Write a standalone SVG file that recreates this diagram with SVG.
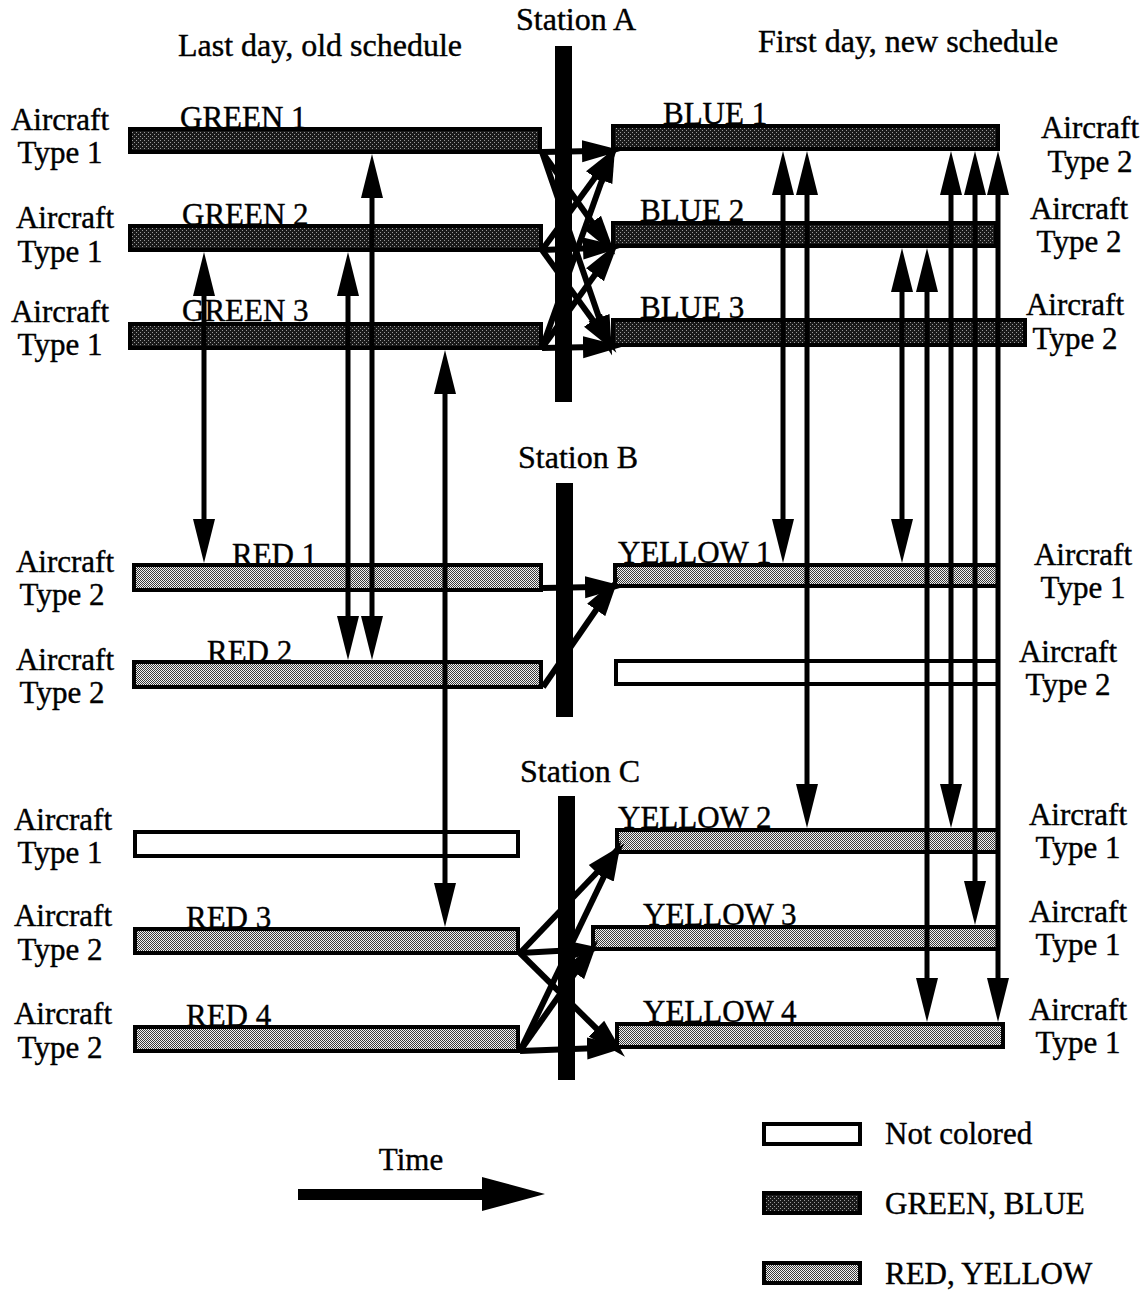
<svg xmlns="http://www.w3.org/2000/svg" width="1142" height="1291" viewBox="0 0 1142 1291">
<style>
text{font-family:"Liberation Serif","Times New Roman",serif;font-size:31px;fill:#000;stroke:#000;stroke-width:0.4}
.m{text-anchor:middle}
.h{font-size:32px}
.bar{stroke:#000;stroke-width:4}
.dark{fill:url(#pd)}
.light{fill:url(#pl)}
.none{fill:#fff}
.stn{fill:#000}
.v{stroke:#000;stroke-width:5;fill:none;marker-start:url(#hv);marker-end:url(#hv)}
.x{stroke:#000;stroke-width:6;fill:none;marker-end:url(#hx)}
</style>
<defs>
<pattern id="pd" width="4" height="4" patternUnits="userSpaceOnUse">
<rect width="4" height="4" fill="#1a1a1a"/>
<rect x="0" y="0" width="1" height="1" fill="#9a9a9a"/>
<rect x="2" y="2" width="1" height="1" fill="#9a9a9a"/>
</pattern>
<pattern id="pl" width="2" height="2" patternUnits="userSpaceOnUse">
<rect width="2" height="2" fill="#f2f2f2"/>
<rect x="0" y="0" width="1" height="1" fill="#3a3a3a"/>
<rect x="1" y="1" width="1" height="1" fill="#3a3a3a"/>
</pattern>
<marker id="hv" markerUnits="userSpaceOnUse" markerWidth="44" markerHeight="24" viewBox="0 0 44 24" refX="14" refY="12" orient="auto-start-reverse">
<path d="M0,1 L44,12 L0,23 z" fill="#000"/>
</marker>
<marker id="hx" markerUnits="userSpaceOnUse" markerWidth="40" markerHeight="24" viewBox="0 0 40 24" refX="12" refY="12" orient="auto">
<path d="M0,1 L40,12 L0,23 z" fill="#000"/>
</marker>
</defs>
<rect width="1142" height="1291" fill="#fff"/>

<g id="headings">
<text class="m h" x="576" y="30">Station A</text>
<text class="h" x="178" y="56">Last day, old schedule</text>
<text class="h" x="758" y="52">First day, new schedule</text>
<text class="m h" x="578" y="468">Station B</text>
<text class="m h" x="580" y="782">Station C</text>
</g>

<g id="stationA"><rect class="stn" x="555" y="46" width="17" height="356"/></g>
<g id="stationB"><rect class="stn" x="556" y="483" width="17" height="234"/></g>
<g id="stationC"><rect class="stn" x="558" y="796" width="17" height="284"/></g>

<g id="green1"><rect class="bar dark" x="130" y="129" width="410" height="23"/><text x="180" y="128">GREEN 1</text>
<text class="m" x="60" y="130">Aircraft</text><text class="m" x="60" y="163">Type 1</text></g>
<g id="green2"><rect class="bar dark" x="130" y="226" width="411" height="24"/><text x="182" y="225">GREEN 2</text>
<text class="m" x="65" y="228">Aircraft</text><text class="m" x="60" y="262">Type 1</text></g>
<g id="green3"><rect class="bar dark" x="130" y="324" width="411" height="24"/><text x="182" y="321">GREEN 3</text>
<text class="m" x="60" y="322">Aircraft</text><text class="m" x="60" y="355">Type 1</text></g>

<g id="blue1"><rect class="bar dark" x="613" y="126" width="385" height="23"/><text x="663" y="124">BLUE 1</text>
<text class="m" x="1090" y="138">Aircraft</text><text class="m" x="1090" y="172">Type 2</text></g>
<g id="blue2"><rect class="bar dark" x="613" y="223" width="383" height="23"/><text x="640" y="221">BLUE 2</text>
<text class="m" x="1079" y="219">Aircraft</text><text class="m" x="1079" y="252">Type 2</text></g>
<g id="blue3"><rect class="bar dark" x="613" y="320" width="412" height="25"/><text x="640" y="318">BLUE 3</text>
<text class="m" x="1075" y="315">Aircraft</text><text class="m" x="1075" y="349">Type 2</text></g>

<g id="red1"><rect class="bar light" x="134" y="565" width="407" height="25"/><text x="232" y="565">RED 1</text>
<text class="m" x="65" y="572">Aircraft</text><text class="m" x="62" y="605">Type 2</text></g>
<g id="red2"><rect class="bar light" x="134" y="662" width="407" height="25"/><text x="207" y="662">RED 2</text>
<text class="m" x="65" y="670">Aircraft</text><text class="m" x="62" y="703">Type 2</text></g>

<g id="yellow1"><rect class="bar light" x="615" y="565" width="383" height="21"/><text x="618" y="563">YELLOW 1</text>
<text class="m" x="1083" y="565">Aircraft</text><text class="m" x="1083" y="598">Type 1</text></g>
<g id="uncoloredB"><rect class="bar none" x="616" y="661" width="382" height="23"/>
<text class="m" x="1068" y="662">Aircraft</text><text class="m" x="1068" y="695">Type 2</text></g>

<g id="uncoloredC"><rect class="bar none" x="135" y="832" width="383" height="24"/>
<text class="m" x="63" y="830">Aircraft</text><text class="m" x="60" y="863">Type 1</text></g>
<g id="red3"><rect class="bar light" x="135" y="929" width="383" height="24"/><text x="186" y="928">RED 3</text>
<text class="m" x="63" y="926">Aircraft</text><text class="m" x="60" y="960">Type 2</text></g>
<g id="red4"><rect class="bar light" x="135" y="1027" width="383" height="24"/><text x="186" y="1026">RED 4</text>
<text class="m" x="63" y="1024">Aircraft</text><text class="m" x="60" y="1058">Type 2</text></g>

<g id="yellow2"><rect class="bar light" x="617" y="830" width="381" height="22"/><text x="618" y="828">YELLOW 2</text>
<text class="m" x="1078" y="825">Aircraft</text><text class="m" x="1078" y="858">Type 1</text></g>
<g id="yellow3"><rect class="bar light" x="593" y="927" width="405" height="22"/><text x="643" y="925">YELLOW 3</text>
<text class="m" x="1078" y="922">Aircraft</text><text class="m" x="1078" y="955">Type 1</text></g>
<g id="yellow4"><rect class="bar light" x="617" y="1024" width="386" height="23"/><text x="643" y="1022">YELLOW 4</text>
<text class="m" x="1078" y="1020">Aircraft</text><text class="m" x="1078" y="1053">Type 1</text></g>

<g id="connectors">
<path class="v" d="M204,282 V533"/>
<path class="v" d="M348,282 V630"/>
<path class="v" d="M372,184 V630"/>
<path class="v" d="M445,380 V897"/>
<path class="v" d="M783,181 V533"/>
<path class="v" d="M807,181 V798"/>
<path class="v" d="M902,278 V533"/>
<path class="v" d="M927,278 V992"/>
<path class="v" d="M951,181 V798"/>
<path class="v" d="M975,181 V895"/>
<path class="v" d="M998,181 V992"/>

<path class="x" d="M542,152 L594,151"/>
<path class="x" d="M542,152 L599,232"/>
<path class="x" d="M542,152 L603,329"/>
<path class="x" d="M542,250 L602,168"/>
<path class="x" d="M542,250 L595,248"/>
<path class="x" d="M542,250 L600,330"/>
<path class="x" d="M542,348 L606,169"/>
<path class="x" d="M542,348 L602,265"/>
<path class="x" d="M542,348 L595,347"/>

<path class="x" d="M543,588 L597,587"/>
<path class="x" d="M543,687 L603,600"/>

<path class="x" d="M520,953 L605,864"/>
<path class="x" d="M520,953 L575,950"/>
<path class="x" d="M520,953 L605,1037"/>
<path class="x" d="M520,1051 L609,866"/>
<path class="x" d="M520,1051 L582,963"/>
<path class="x" d="M520,1051 L599,1048"/>
</g>

<g id="time">
<text class="m" x="411" y="1170">Time</text>
<path d="M298,1189 H482 V1177 L545,1194 L482,1211 V1200 H298 z" fill="#000"/>
</g>

<g id="legend">
<rect class="bar none" x="764" y="1124" width="96" height="20"/>
<text x="885" y="1144">Not colored</text>
<rect class="bar dark" x="764" y="1193" width="96" height="20"/>
<text x="885" y="1214">GREEN, BLUE</text>
<rect class="bar light" x="764" y="1263" width="96" height="20"/>
<text x="885" y="1284">RED, YELLOW</text>
</g>
</svg>
